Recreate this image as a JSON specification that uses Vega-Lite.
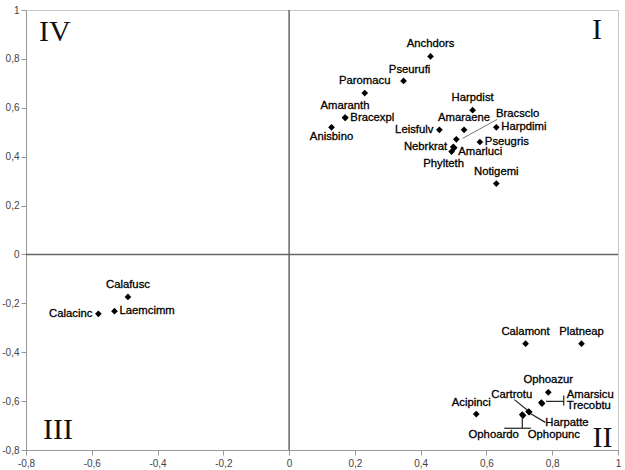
{
  "$schema": "https://vega.github.io/schema/vega-lite/v6.json",
  "width": 592,
  "height": 440,
  "autosize": {"type": "none"},
  "padding": {"left": 26, "top": 10, "right": 7, "bottom": 20},
  "background": "white",
  "config": {
    "view": {"stroke": "#c8c8c8", "strokeWidth": 1},
    "axis": {
      "grid": false,
      "domainColor": "#999999",
      "tickColor": "#999999",
      "tickSize": 5,
      "labelColor": "#444444",
      "labelFont": "Liberation Sans",
      "labelFontSize": 10,
      "labelFlush": false,
      "labelOverlap": false,
      "title": null
    },
    "text": {"font": "Liberation Sans", "fontSize": 11.3, "color": "black", "stroke": "black", "strokeWidth": 0.3}
  },
  "datasets": {
    "species": [
      {"name": "Anchdors", "x": 0.43, "y": 0.81, "pos": "above"},
      {"name": "Pseurufi", "x": 0.348, "y": 0.71, "pos": "aboveright"},
      {"name": "Paromacu", "x": 0.23, "y": 0.66, "pos": "above"},
      {"name": "Amaranth", "x": 0.17, "y": 0.56, "pos": "above"},
      {"name": "Bracexpl", "x": 0.171, "y": 0.559, "pos": "right"},
      {"name": "Anisbino", "x": 0.129, "y": 0.52, "pos": "below"},
      {"name": "Harpdist", "x": 0.558, "y": 0.59, "pos": "above"},
      {"name": "Amaraene", "x": 0.532, "y": 0.51, "pos": "above"},
      {"name": "Leisfulv", "x": 0.457, "y": 0.51, "pos": "left"},
      {"name": "Harpdimi", "x": 0.63, "y": 0.52, "pos": "right"},
      {"name": "Pseugris", "x": 0.58, "y": 0.46, "pos": "right"},
      {"name": "Bracsclo", "x": 0.5085, "y": 0.471, "pos": "callout"},
      {"name": "Nebrkrat", "x": 0.499, "y": 0.44, "pos": "left"},
      {"name": "Amarluci", "x": 0.502, "y": 0.436, "pos": "rightlow"},
      {"name": "Phylteth", "x": 0.494, "y": 0.421, "pos": "belowleft"},
      {"name": "Notigemi", "x": 0.63, "y": 0.29, "pos": "above"},
      {"name": "Calafusc", "x": -0.49, "y": -0.174, "pos": "above"},
      {"name": "Laemcimm", "x": -0.531, "y": -0.232, "pos": "right"},
      {"name": "Calacinc", "x": -0.58, "y": -0.243, "pos": "left"},
      {"name": "Calamont", "x": 0.719, "y": -0.365, "pos": "above"},
      {"name": "Platneap", "x": 0.889, "y": -0.365, "pos": "above"},
      {"name": "Ophoazur", "x": 0.788, "y": -0.564, "pos": "above"},
      {"name": "Amarsicu", "x": 0.767, "y": -0.606, "pos": "callout"},
      {"name": "Trecobtu", "x": 0.769, "y": -0.61, "pos": "callout"},
      {"name": "Acipinci", "x": 0.569, "y": -0.653, "pos": "aboveleft"},
      {"name": "Cartrotu", "x": 0.728, "y": -0.643, "pos": "callout"},
      {"name": "Harpatte", "x": 0.73, "y": -0.645, "pos": "callout"},
      {"name": "Ophoardo", "x": 0.709, "y": -0.655, "pos": "callout"},
      {"name": "Ophopunc", "x": 0.711, "y": -0.659, "pos": "callout"}
    ],
    "callouts": [
      {"name": "Bracsclo", "x": 0.629, "y": 0.574, "align": "left"},
      {"name": "Amarsicu", "x": 0.844, "y": -0.575, "align": "left"},
      {"name": "Trecobtu", "x": 0.844, "y": -0.622, "align": "left"},
      {"name": "Cartrotu", "x": 0.677, "y": -0.575, "align": "center"},
      {"name": "Harpatte", "x": 0.779, "y": -0.689, "align": "left"},
      {"name": "Ophoardo", "x": 0.622, "y": -0.738, "align": "center"},
      {"name": "Ophopunc", "x": 0.805, "y": -0.738, "align": "center"}
    ],
    "leaders": [
      {"id": "Bracsclo", "x": 0.528, "y": 0.475, "x2": 0.633, "y2": 0.553, "kind": "thin"},
      {"id": "Amarsicu-h", "x": 0.781, "y": -0.601, "x2": 0.835, "y2": -0.601, "kind": "bracket"},
      {"id": "Amarsicu-v", "x": 0.835, "y": -0.577, "x2": 0.835, "y2": -0.618, "kind": "bracket"},
      {"id": "Cartrotu", "x": 0.685, "y": -0.594, "x2": 0.723, "y2": -0.635, "kind": "bracket"},
      {"id": "Harpatte", "x": 0.732, "y": -0.65, "x2": 0.779, "y2": -0.687, "kind": "bracket"},
      {"id": "Ophoardo-v", "x": 0.709, "y": -0.67, "x2": 0.709, "y2": -0.711, "kind": "bracket"},
      {"id": "Ophoardo-h", "x": 0.654, "y": -0.711, "x2": 0.735, "y2": -0.711, "kind": "bracket"}
    ],
    "quadrants": [
      {"q": "IV", "x": -0.712, "y": 0.912},
      {"q": "I", "x": 0.936, "y": 0.918},
      {"q": "III", "x": -0.703, "y": -0.717},
      {"q": "II", "x": 0.953, "y": -0.752}
    ],
    "zero": [{"v": 0}]
  },
  "encoding": {
    "x": {
      "type": "quantitative",
      "scale": {"domain": [-0.8, 1], "nice": false, "zero": false},
      "axis": {
        "values": [-0.8, -0.6, -0.4, -0.2, 0, 0.2, 0.4, 0.6, 0.8, 1],
        "labelExpr": "(datum.value < -0.001 ? '-' : '') + replace(format(abs(datum.value), '.1~f'), '.', ',')",
        "labelPadding": 3
      }
    },
    "y": {
      "type": "quantitative",
      "scale": {"domain": [-0.8, 1], "nice": false, "zero": false},
      "axis": {
        "values": [-0.8, -0.6, -0.4, -0.2, 0, 0.2, 0.4, 0.6, 0.8, 1],
        "labelExpr": "(datum.value < -0.001 ? '-' : '') + replace(format(abs(datum.value), '.1~f'), '.', ',')",
        "labelPadding": 2
      }
    }
  },
  "layer": [
    {
      "data": {"name": "zero"},
      "mark": {"type": "rule", "color": "#666666", "strokeWidth": 1.5},
      "encoding": {"x": {"field": "v"}}
    },
    {
      "data": {"name": "zero"},
      "mark": {"type": "rule", "color": "#666666", "strokeWidth": 1.5},
      "encoding": {"y": {"field": "v"}}
    },
    {
      "data": {"name": "leaders"},
      "transform": [{"filter": "datum.kind == 'thin'"}],
      "mark": {"type": "rule", "color": "#777777", "strokeWidth": 1},
      "encoding": {"x": {"field": "x"}, "y": {"field": "y"}, "x2": {"field": "x2"}, "y2": {"field": "y2"}}
    },
    {
      "data": {"name": "leaders"},
      "transform": [{"filter": "datum.kind == 'bracket'"}],
      "mark": {"type": "rule", "color": "#222222", "strokeWidth": 1.2},
      "encoding": {"x": {"field": "x"}, "y": {"field": "y"}, "x2": {"field": "x2"}, "y2": {"field": "y2"}}
    },
    {
      "data": {"name": "species"},
      "mark": {"type": "point", "shape": "diamond", "filled": true, "color": "black", "size": 45, "opacity": 1},
      "encoding": {"x": {"field": "x"}, "y": {"field": "y"}}
    },
    {
      "data": {"name": "species"},
      "transform": [{"filter": "datum.pos == 'above'"}],
      "mark": {"type": "text", "align": "center", "baseline": "middle", "dy": -12},
      "encoding": {"x": {"field": "x"}, "y": {"field": "y"}, "text": {"field": "name"}}
    },
    {
      "data": {"name": "species"},
      "transform": [{"filter": "datum.pos == 'aboveright'"}],
      "mark": {"type": "text", "align": "center", "baseline": "middle", "dy": -11, "dx": 6},
      "encoding": {"x": {"field": "x"}, "y": {"field": "y"}, "text": {"field": "name"}}
    },
    {
      "data": {"name": "species"},
      "transform": [{"filter": "datum.pos == 'aboveleft'"}],
      "mark": {"type": "text", "align": "center", "baseline": "middle", "dy": -11, "dx": -5},
      "encoding": {"x": {"field": "x"}, "y": {"field": "y"}, "text": {"field": "name"}}
    },
    {
      "data": {"name": "species"},
      "transform": [{"filter": "datum.pos == 'below'"}],
      "mark": {"type": "text", "align": "center", "baseline": "middle", "dy": 10},
      "encoding": {"x": {"field": "x"}, "y": {"field": "y"}, "text": {"field": "name"}}
    },
    {
      "data": {"name": "species"},
      "transform": [{"filter": "datum.pos == 'belowleft'"}],
      "mark": {"type": "text", "align": "center", "baseline": "middle", "dy": 12, "dx": -8},
      "encoding": {"x": {"field": "x"}, "y": {"field": "y"}, "text": {"field": "name"}}
    },
    {
      "data": {"name": "species"},
      "transform": [{"filter": "datum.pos == 'left'"}],
      "mark": {"type": "text", "align": "right", "baseline": "middle", "dx": -6},
      "encoding": {"x": {"field": "x"}, "y": {"field": "y"}, "text": {"field": "name"}}
    },
    {
      "data": {"name": "species"},
      "transform": [{"filter": "datum.pos == 'right'"}],
      "mark": {"type": "text", "align": "left", "baseline": "middle", "dx": 5},
      "encoding": {"x": {"field": "x"}, "y": {"field": "y"}, "text": {"field": "name"}}
    },
    {
      "data": {"name": "species"},
      "transform": [{"filter": "datum.pos == 'rightlow'"}],
      "mark": {"type": "text", "align": "left", "baseline": "middle", "dx": 4, "dy": 4},
      "encoding": {"x": {"field": "x"}, "y": {"field": "y"}, "text": {"field": "name"}}
    },
    {
      "data": {"name": "callouts"},
      "transform": [{"filter": "datum.align == 'left'"}],
      "mark": {"type": "text", "align": "left", "baseline": "middle"},
      "encoding": {"x": {"field": "x"}, "y": {"field": "y"}, "text": {"field": "name"}}
    },
    {
      "data": {"name": "callouts"},
      "transform": [{"filter": "datum.align == 'center'"}],
      "mark": {"type": "text", "align": "center", "baseline": "middle"},
      "encoding": {"x": {"field": "x"}, "y": {"field": "y"}, "text": {"field": "name"}}
    },
    {
      "data": {"name": "quadrants"},
      "mark": {"type": "text", "font": "Liberation Serif", "fontSize": 30, "align": "center", "baseline": "middle", "color": "#111111", "strokeWidth": 0},
      "encoding": {"x": {"field": "x"}, "y": {"field": "y"}, "text": {"field": "q"}}
    }
  ]
}
